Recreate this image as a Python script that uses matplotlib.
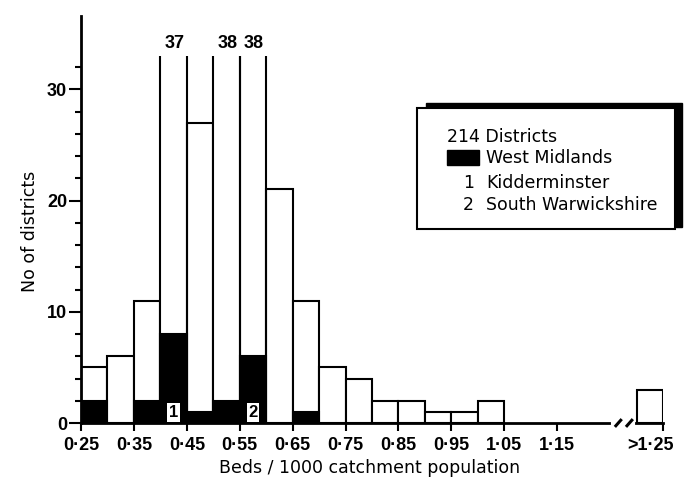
import matplotlib
matplotlib.use("Agg")
import matplotlib.pyplot as plt
import matplotlib.patches as mpatches
from matplotlib.transforms import IdentityTransform, ScaledTranslation
from matplotlib.ticker import FixedLocator

# ---------------- data ----------------
bin_left = [0.25, 0.30, 0.35, 0.40, 0.45, 0.50, 0.55, 0.60,
            0.65, 0.70, 0.75, 0.80, 0.85, 0.90, 0.95, 1.00]
totals = [5, 6, 11, 37, 27, 38, 38, 21, 11, 5, 4, 2, 2, 1, 1, 2]
west_midlands = [2, 0, 2, 8, 1, 2, 6, 0, 1, 0, 0, 0, 0, 0, 0, 0]
over_label = ">1·25"
over_total = 3
over_west = 0
bin_width = 0.05
tick_values = [0.25, 0.35, 0.45, 0.55, 0.65, 0.75, 0.85, 0.95, 1.05, 1.15]
tick_labels = ["0·25", "0·35", "0·45", "0·55", "0·65", "0·75",
               "0·85", "0·95", "1·05", "1·15"]
marked = {"1": 0.40, "2": 0.55}   # Kidderminster, South Warwickshire
legend_lines = ["214 Districts", "West Midlands", "Kidderminster",
                "South Warwickshire"]

# ---------------- layout ----------------
W, H = 698, 484
cap = 33            # tall bars are drawn cut off at this height
break_shift = 0.10  # the >1.25 bin sits after an axis break
over_pos = 1.25 + break_shift

fig = plt.figure(figsize=(W / 100, H / 100), dpi=100)
fig.patch.set_facecolor("white")
ax = fig.add_axes([81 / W, (H - 423) / H, (663 - 81) / W, (423 - 16) / H])
ax.set_xlim(0.25, over_pos)
ax.set_ylim(0, 36.6)

lw = 1.5
for left, tot, wm in zip(bin_left, totals, west_midlands):
    if tot > cap:
        ax.bar(left, cap, width=bin_width, align="edge", color="white",
               edgecolor="none", zorder=2)
        ax.vlines([left, left + bin_width], 0, cap, colors="black",
                  linewidth=lw, zorder=3)
        ax.text(left + bin_width / 2 + 0.002, 34.1, str(tot), ha="center",
                va="center", fontsize=13, fontweight="bold",
                family="Liberation Sans")
    else:
        ax.bar(left, tot, width=bin_width, align="edge", color="white",
               edgecolor="black", linewidth=lw, zorder=2)
    if wm > 0:
        ax.bar(left, wm, width=bin_width, align="edge", color="black",
               edgecolor="black", linewidth=lw, zorder=3)

# >1.25 bin
ax.bar(over_pos - bin_width, over_total, width=bin_width, align="edge",
       color="white", edgecolor="black", linewidth=lw, zorder=2)

# numbered district markers
for lab, left in marked.items():
    ax.text(left + bin_width / 2, 0.95, lab, ha="center", va="center",
            fontsize=12, fontweight="bold", family="Liberation Sans",
            zorder=5,
            bbox=dict(facecolor="white", edgecolor="none", pad=1.2))

# spines
for s in ("top", "right"):
    ax.spines[s].set_visible(False)
ax.spines["left"].set_linewidth(2)
ax.spines["bottom"].set_linewidth(2)
ax.spines["bottom"].set_zorder(4)

# axis break marks
ax.plot([1.256, 1.294], [0, 0], color="white", linewidth=3,
        clip_on=False, zorder=6)
for x0 in (1.259, 1.280):
    ax.plot([x0, x0 + 0.013], [-0.35, 0.35], color="black", linewidth=2.2,
            clip_on=False, zorder=7, solid_capstyle="butt")

# ticks
ax.set_xticks(tick_values + [over_pos])
ax.set_xticklabels(tick_labels + [over_label])
ax.tick_params(axis="x", direction="out", length=6, width=1.5, pad=4)
ax.set_yticks([0, 10, 20, 30])
ax.yaxis.set_minor_locator(FixedLocator([v for v in range(2, 33, 2)
                                         if v % 10]))
ax.tick_params(axis="y", which="major", direction="out", length=9,
               width=1.5, pad=1)
ax.tick_params(axis="y", which="minor", direction="out", length=4,
               width=1.5)
for t in ax.get_xticklabels() + ax.get_yticklabels():
    t.set_fontfamily("Liberation Sans")
    t.set_fontweight("bold")
    t.set_fontsize(13)
last = ax.get_xticklabels()[-1]
last.set_transform(last.get_transform() +
                   ScaledTranslation(-13 / 100, 0, fig.dpi_scale_trans))

# axis labels
ident = IdentityTransform()
fig.text(370, H - 468, "Beds / 1000 catchment population", transform=ident,
         ha="center", va="center", fontsize=12.5, family="DejaVu Sans")
fig.text(30, H - 231, "No of districts", transform=ident, rotation=90,
         ha="center", va="center", fontsize=12.5, family="DejaVu Sans")

# legend box with shadow
fig.add_artist(mpatches.Rectangle((426, H - 227), 682 - 426, 227 - 103,
                                  transform=ident, facecolor="black",
                                  edgecolor="black", zorder=10))
fig.add_artist(mpatches.Rectangle((417, H - 229), 675 - 417, 229 - 108,
                                  transform=ident, facecolor="white",
                                  edgecolor="black", linewidth=1.5,
                                  zorder=11))
fig.add_artist(mpatches.Rectangle((447, H - 165), 32, 15, transform=ident,
                                  facecolor="black", edgecolor="black",
                                  zorder=12))
txt_kw = dict(transform=ident, fontsize=12.5, family="DejaVu Sans",
              va="center", zorder=13)
fig.text(447, H - 137, legend_lines[0], ha="left", **txt_kw)
fig.text(486, H - 158, legend_lines[1], ha="left", **txt_kw)
fig.text(474, H - 183, "1", ha="right", **txt_kw)
fig.text(486, H - 183, legend_lines[2], ha="left", **txt_kw)
fig.text(474, H - 205, "2", ha="right", **txt_kw)
fig.text(486, H - 205, legend_lines[3], ha="left", **txt_kw)

fig.savefig("out.png", dpi=100)
